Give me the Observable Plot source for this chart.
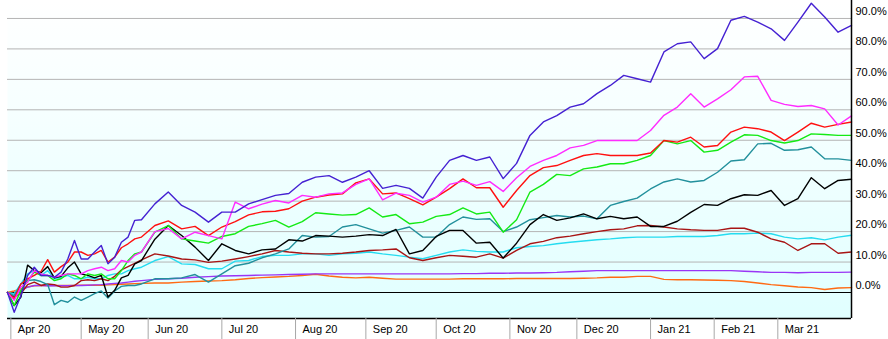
<!DOCTYPE html>
<html><head><meta charset="utf-8">
<script src="https://cdn.jsdelivr.net/npm/d3@7"></script>
<script src="https://cdn.jsdelivr.net/npm/@observablehq/plot@0.6"></script>
<style>html,body{margin:0;padding:0;background:#fff}svg{display:block}</style>
</head><body><div id="chart"></div>
<script>
// trading-day index (0 = 31 Mar 2020 ... 252 = 31 Mar 2021)
const days = [0,2,4,6,8,10,12,14,16,18,20,22,24,26,28,30,32,34,36,38,40,
  44,48,52,56,60,64,68,72,76,80,84,88,92,96,100,104,108,112,116,120,124,128,132,136,140,144,148,152,156,160,
  164,168,172,176,180,184,188,192,196,200,204,208,212,216,220,224,228,232,236,240,244,248,252];

const monthStarts = [1,22,42,64,86,107,128,150,170,192,211,230];
const monthLabels = ["Apr 20","May 20","Jun 20","Jul 20","Aug 20","Sep 20","Oct 20","Nov 20","Dec 20","Jan 21","Feb 21","Mar 21"];
const yTicks = [0,10,20,30,40,50,60,70,80,90];

const seriesNames = ["S-orange","S-purple","S-cyan","S-maroon","S-teal","S-black","S-green","S-red","S-magenta","S-blue"];
const seriesColors = ["#ff6a13","#9a35f5","#25dcf0","#a81515","#22909c","#000000","#14ea14","#ff1010","#ff2cff","#4521d2"];

const blue = [0,-6.5,-1,5.6,8.3,5.6,5.6,5,6.7,11,17.1,11,11,13.3,15.4,9.4,11.6,16.5,18.2,23.7,23.9,
  29.1,33,28.6,26.4,23.1,26.4,26.4,29.1,
  30.5,31.9,32.5,36.2,37.9,38.4,36.2,37.9,40,34.2,35.2,34.2,31,37.9,43.4,45,43.4,44.5,37.4,42.4,51.6,56,
  58.1,60.9,62,65.3,68,71.3,70.2,69.1,
  79,81.7,82.3,76.8,80.1,89.4,90.7,88.8,86.6,82.8,88.8,95,90.5,85.5,87.7];
const magenta = [0,-2.6,1.75,3.4,7.2,6.1,5.6,5,5.6,6.1,6.1,6.1,7.2,7.8,8.3,7.2,7.8,10.5,10,12.2,13.3,
  20,21,17.6,19.8,18.7,17.6,29.7,27.5,
  29,30.2,29.4,31.9,31.3,32.4,32.7,35.5,37.3,30.4,32.6,31.9,29.7,31.3,35.5,36.6,35.2,36.4,33.2,37.7,41.4,43.4,
  45,47.5,48.3,49.9,49.9,49.9,49.9,53.2,
  58.2,60.9,65.3,60.9,63.6,66.6,70.8,71,63.1,61.8,61.1,61.4,60.3,55,58];
const red = [0,-2.1,2.8,4.5,5.6,6.9,10.8,6.7,8.5,10,13.3,13.3,12.2,12.7,13.8,10,11.6,14.7,16,17.6,18.2,
  22,23.5,20.9,21.7,18.7,21.5,23.3,25.5,
  26.5,26.7,27.5,30,31.3,32,32.4,36,37.3,32.4,32.7,30.8,28.8,31.3,34.1,37.3,34.4,34.4,28,33.5,38.4,41,
  41.7,43.4,45,45.6,45,45,45,45.8,
  49.9,49.4,51,47.8,48.3,52.7,54.3,53.8,52.7,49.9,52.7,55.6,54.3,55.2,56];
const green = [0,-4.3,0.7,3.9,6.7,5.6,5.6,3.9,4.5,6.1,5.6,4.5,6.1,5.6,6.1,4.5,4.5,7.2,10.5,12.7,13.3,
  19.8,22,17.6,16.9,16.2,18.4,19.3,21.7,
  22.6,23.7,21.5,23.3,26.2,25.8,25.4,25.6,27.8,24.8,25.6,22.6,23.1,25,25.6,27.8,25.8,26.4,19.8,23.9,33,35.5,
  38.8,38.4,40.6,41.2,42.3,42.3,43.4,45,
  49.9,48.8,49.9,46.1,46.7,49.4,51.8,51.6,49.9,49.1,49.9,52.1,51.9,51.6,51.6];
const teal = [0,-1,2.8,3.9,4.2,3.6,2.6,-4,-2.6,-3.2,-1.5,-2.6,-1.5,-0.4,0.5,-1.8,0.5,2,2.3,2.3,2.8,
  4.5,4.5,4.8,5.9,3.4,6.1,8.8,9.6,
  11.4,12.7,14.3,18.7,18.2,18.4,21.5,22.3,20.9,19.5,20.4,21.5,18.2,18.2,22.3,24.8,24,24.2,20,21.5,23.9,24.6,
  25.3,24.8,25.1,24.2,28.6,29.9,31,34,
  36.3,37.3,36.3,36.8,39.5,43.2,43.6,48.8,49,46.7,46.9,47.8,43.9,43.9,43.4];
const black = [0,-4.3,-1.5,9,7.2,6.5,8.5,4.8,5.3,8.1,10,6.1,5.6,4.8,5.6,-1.5,0.7,4.8,5.6,9.4,10.5,
  17.5,22,18.7,14.9,10.5,16,13.8,12.7,
  14,14.3,17.3,16.9,18.7,18.5,18.2,18.5,19,18.7,20.7,12.7,13.8,18.4,20.4,20.4,16.2,16.5,11.3,16.2,22.3,25.6,
  23.7,24.5,25.8,24.2,25,24.2,24.8,21.7,
  21.7,23.4,26.3,28.9,28.6,30.8,32.1,31.9,33.5,28.6,30.8,37.7,34.1,36.8,37.2];
const maroon = [0,-1.5,-0.4,2.6,3.4,2.3,2.8,2.6,1.75,1.75,2.3,3.9,4.2,3.9,4.5,3.9,5.3,7.4,8.5,9.6,10.7,
  12.7,12,11,10.7,9.9,10.3,11,11.8,
  12.7,13.8,13.3,12.9,12.7,12.7,12.9,13.3,13.8,14,14.3,11.4,10.5,11.4,12.2,11.9,11.6,12.7,11.3,13.8,16,16.8,
  18,18.5,19.3,20,20.6,20.9,21.9,22,
  21.5,20.9,20.6,20.4,20.4,21.1,21.1,19.8,17.6,16.5,13.8,16,16,12.9,13.3];
const cyan = [0,-0.4,2.8,6.1,7.2,5.6,7.2,4.5,5,5.6,4.5,4.5,5,4.5,4.5,5.6,6.1,6.1,7.2,7.8,8.3,
  10.5,11.8,9.4,9.2,7.8,7.8,10.3,10.5,
  11.8,12.2,12.2,12.7,12.7,12.2,12.7,12.9,13.3,12.7,12.2,11.6,11.1,12.2,13.3,14,13.5,13.3,13.3,14.7,15.1,15.4,
  16,16.5,16.9,17.3,17.6,18,18.2,18.2,
  18.2,18.4,18.4,18.4,18.7,19.3,19.3,19.5,19.3,18.2,17.6,18,17.3,18.2,18.8];
const purple = [0,-1.2,0.7,1.75,2.3,2.3,2.2,2.2,2.2,2.2,2.3,2.3,2.4,2.5,2.6,2.8,3,3.1,3.4,3.7,3.9,
  4.3,4.5,4.7,5,5.2,5.4,5.5,5.6,
  5.7,5.8,5.9,6,6.1,6.1,6.1,6.1,6.1,6.1,6.1,6.1,6.1,6.1,6.1,6.2,6.2,6.3,6.3,6.4,6.4,6.5,
  6.6,6.8,7,7.2,7.2,7.2,7.2,7.2,
  7.2,7.2,7.2,7.2,7.2,7.2,7,6.8,6.6,6.6,6.5,6.6,6.6,6.6,6.7];
const orange = [0,0.5,1.2,1.8,2.2,2.3,2.4,2.3,2.3,2.3,2.3,2.4,2.4,2.4,2.4,2.5,2.6,2.7,2.8,2.9,3,
  3.1,3.1,3.4,3.6,3.8,3.9,4.2,4.6,
  4.9,5.1,5.3,5.6,6,5.4,5,4.8,5,4.7,4.4,4.4,4.4,4.4,4.4,4.5,4.5,4.5,4.5,4.6,4.6,4.6,
  4.6,4.6,4.7,4.8,5,5,5.3,5.3,
  4.3,4.2,4.2,4.1,4,3.9,3.6,3.1,2.6,2.2,1.8,1.6,1,1.5,1.6];

const seriesValues = [orange, purple, cyan, maroon, teal, black, green, red, magenta, blue];
const rows = [];
seriesNames.forEach((name, k) => {
  seriesValues[k].forEach((v, i) => rows.push({series: name, day: days[i], value: v}));
});

const yMin = -8.54, yMax = 95.9, xMax = 252;
const labelOf = new Map(monthStarts.map((d, i) => [d, monthLabels[i]]));

const svg = Plot.plot({
  width: 888, height: 339,
  marginLeft: 7, marginRight: 37, marginTop: 0, marginBottom: 21,
  style: {fontFamily: "'Liberation Sans', Arial, sans-serif", fontSize: "11px", background: "#ffffff", color: "#000"},
  x: {domain: [0, xMax], axis: null, label: null},
  y: {domain: [yMin, yMax], axis: null, label: null},
  color: {type: "ordinal", domain: seriesNames, range: seriesColors},
  marks: [
    Plot.frame({fill: "#e0ffff", stroke: null}),
    Plot.ruleY(yTicks.filter(t => t !== 0), {stroke: "#b4b4b4", strokeWidth: 1}),
    Plot.ruleY([0], {stroke: "#000", strokeWidth: 1.2}),
    Plot.line(rows, {x: "day", y: "value", z: "series", stroke: "series", strokeWidth: 1.4}),
    Plot.ruleY([yMin], {stroke: "#000", strokeWidth: 1.5}),
    Plot.ruleX([xMax], {stroke: "#000", strokeWidth: 1.5}),
    Plot.axisY({anchor: "right", ticks: yTicks, tickSize: 0, tickPadding: 4, dy: -7, label: null,
      tickFormat: d => d.toFixed(1) + "%", fontSize: 11}),
    Plot.axisX({ticks: monthStarts, tickSize: 21, tickFormat: () => "", stroke: "#a8a8a8", label: null}),
    Plot.axisX({ticks: monthStarts, tickSize: 0, tickPadding: 7, textAnchor: "start", dx: 7, label: null,
      tickFormat: d => labelOf.get(d), fontSize: 11})
  ]
});

// vertical white-to-light-cyan gradient behind the plot area
const ns = "http://www.w3.org/2000/svg";
const defs = document.createElementNS(ns, "defs");
defs.innerHTML = '<linearGradient id="bgGrad" x1="0" y1="0" x2="0" y2="1">' +
  '<stop offset="0" stop-color="#ffffff"/><stop offset="0.35" stop-color="#f6ffff"/><stop offset="1" stop-color="#e0ffff"/></linearGradient>';
svg.insertBefore(defs, svg.firstChild);
const fr = svg.querySelector('rect[aria-label="frame"]') || svg.querySelector('g[aria-label="frame"] rect');
if (fr) fr.setAttribute("fill", "url(#bgGrad)");

document.getElementById("chart").appendChild(svg);
</script>
</body></html>
